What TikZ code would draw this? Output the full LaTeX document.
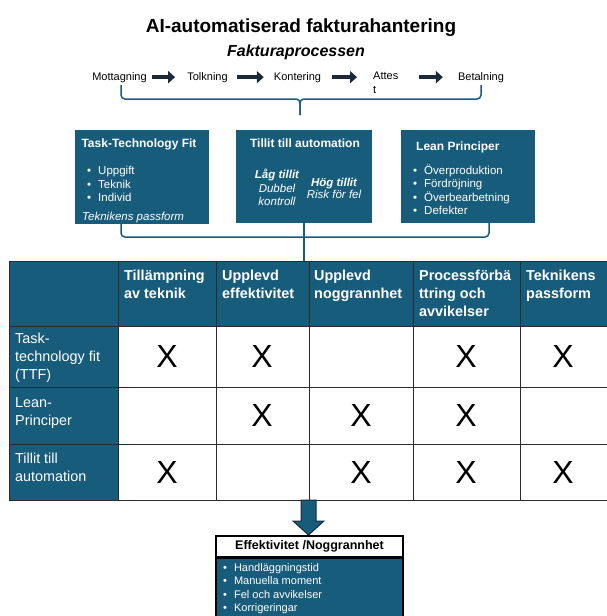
\documentclass[tikz,border=0pt]{standalone}
\usepackage{fontspec}
\setmainfont{Liberation Sans}
\usetikzlibrary{arrows.meta,positioning}
\definecolor{boxteal}{HTML}{185C7C}
\definecolor{gridgray}{HTML}{2B2B2B}
\definecolor{arrowdark}{HTML}{1B2A36}

\begin{document}
\begin{tikzpicture}
[x=1pt,y=-1pt,every node/.style={inner sep=0pt},
 stage/.style={anchor=base,font=\fontsize{11}{14}\selectfont},
 flow/.style={line width=4.5pt,draw=arrowdark,-{Triangle[length=7pt,width=12pt]}},
 bracket/.style={draw=boxteal,line width=1.5pt,rounded corners=4pt},
 box/.style={fill=boxteal},
 boxhead/.style={anchor=base,text=white,font=\fontsize{12}{14}\selectfont\bfseries},
 boxtext/.style={anchor=base west,text=white,font=\fontsize{11.5}{13}\selectfont},
 restext/.style={anchor=base west,text=white,font=\fontsize{11}{13}\selectfont},
 tablegrid/.style={draw=gridgray,line width=1pt},
 headcell/.style={anchor=north west,align=left,text=white,font=\fontsize{14.4}{18}\selectfont\bfseries},
 rowcell/.style={anchor=north west,align=left,text=white,font=\fontsize{14.4}{18}\selectfont},
 bigx/.style={font=\fontsize{32}{32}\selectfont}]
\clip (0,0) rectangle (607,616);

% title
\node[anchor=base,font=\fontsize{19}{22}\selectfont\bfseries] (title) at (301,32) {AI-automatiserad fakturahantering};
\node[anchor=base,font=\fontsize{16}{18}\selectfont\bfseries\itshape] (sub) at (296,56) {Fakturaprocessen};

% process steps
\node[stage] (mot) at (119.5,80) {Mottagning};
\node[stage] (tol) at (207.5,80) {Tolkning};
\node[stage] (kon) at (297.5,80) {Kontering};
\node[stage,anchor=north west,align=left] (att) at (373,72) {Attes\\t};
\node[stage] (bet) at (481,80) {Betalning};
\draw[flow,shorten <=5pt,shorten >=12pt] (mot) -- (tol);
\draw[flow,shorten <=9pt,shorten >=10pt] (tol) -- (kon);
\draw[flow,shorten <=11pt,shorten >=16pt] (kon) -- (kon -| att.west);
\draw[flow,shorten <=21pt,shorten >=15pt] (att.east |- bet) -- (bet);

% brace
\coordinate (brL) at (121,85);
\coordinate (brR) at (481,85);
\coordinate (brM) at (300,115);
\draw[bracket] (brL) |- (brM |- 0,99) -- (brM);
\draw[bracket] (brR) |- (brM |- 0,99) -- (brM);

% theory boxes
\node[box,minimum width=134pt,minimum height=94pt] (ttf) at (142,177) {};
\node[box,minimum width=136pt,minimum height=93pt] (tillit) at (304,176.5) {};
\node[box,minimum width=134pt,minimum height=93pt] (lean) at (468,176.5) {};

\node[boxhead] (ttfhead) at (139,147) {Task-Technology Fit};
\foreach \t [count=\i] in {Uppgift,Teknik,Individ}
  \node[boxtext] (ttfitem\i) at (87,161+13.5*\i) {\textbullet\hspace{7pt}\t};
\node[boxtext,font=\fontsize{11.5}{13}\selectfont\itshape] (ttffit) at (82,220) {Teknikens passform};

\node[boxhead] (tillithead) at (305,147) {Tillit till automation};
\node[boxtext,anchor=base,font=\fontsize{11.5}{13}\selectfont\bfseries\itshape] (lowhead) at (277,178) {Låg tillit};
\node[boxtext,anchor=base,font=\fontsize{11.5}{13}\selectfont\itshape] (low1) at (277,192) {Dubbel};
\node[boxtext,anchor=base,font=\fontsize{11.5}{13}\selectfont\itshape] (low2) at (277,205) {kontroll};
\node[boxtext,anchor=base,font=\fontsize{11.5}{13}\selectfont\bfseries\itshape] (highhead) at (334,186) {Hög tillit};
\node[boxtext,anchor=base,font=\fontsize{11.5}{13}\selectfont\itshape] (high1) at (334,198) {Risk för fel};

\node[boxhead,anchor=base west] (leanhead) at (416,150) {Lean Principer};
\foreach \t [count=\i] in {Överproduktion,Fördröjning,Överbearbetning,Defekter}
  \node[boxtext] (leanitem\i) at (413,160.5+13.5*\i) {\textbullet\hspace{7pt}\t};

% connectors to table
\coordinate (ttfout) at (121,224);
\coordinate (leanout) at (489,223);
\coordinate (bus) at (305,237);
\draw[bracket] (ttfout) |- (bus) -| (leanout);
\draw[bracket] (tillit.south) -- (tillit.south |- 0,261);

% table
\fill[boxteal] (9,261) rectangle (612,326);
\fill[boxteal] (9,326) rectangle (118,500);
\foreach \x in {118,216,309,413,520} \draw[tablegrid] (\x,261) -- (\x,500);
\foreach \y in {326,387,444} \draw[tablegrid] (9,\y) -- (612,\y);
\draw[tablegrid] (612,261) -| (9,500) -- (612,500);

\foreach \x/\t [count=\i] in {124/{Tillämpning\\av teknik},222/{Upplevd\\effektivitet},314/{Upplevd\\noggrannhet},419/{Processförbä\\ttring och\\avvikelser},526/{Teknikens\\passform}}
  \node[headcell] (head\i) at (\x,269.5) {\t};
\node[rowcell] (rowttf) at (15,333) {Task-\\technology fit\\(TTF)};
\node[rowcell] (rowlean) at (15,397) {Lean-\\Principer};
\node[rowcell] (rowtrust) at (15,453) {Tillit till\\automation};

\foreach \px/\py [count=\i] in {167/356,262/356,466/356,563/356,262/415,361/415,466/415,167/472,361/472,466/472,563/472}
  \node[bigx] (cross\i) at (\px,\py) {X};

% result
\draw[fill=boxteal,draw=arrowdark,line width=1pt] (301,500) -- (316,500) -- (316,521) -- (324,521) -- (308.5,535) -- (293,521) -- (301,521) -- cycle;
\node[draw=black,fill=white,line width=1.3pt,minimum width=187pt,minimum height=21pt,font=\fontsize{12.5}{14}\selectfont\bfseries] (reshead) at (309.5,546.5) {Effektivitet /Noggrannhet};
\node[draw=black,fill=boxteal,line width=1.3pt,minimum width=187pt,minimum height=64pt,below=0pt of reshead] (resbody) {};
\foreach \t [count=\i] in {Handläggningstid,Manuella moment,Fel och avvikelser,Korrigeringar}
  \node[restext] (resitem\i) at (223,557.5+13.5*\i) {\textbullet\hspace{7pt}\t};
\end{tikzpicture}
\end{document}
